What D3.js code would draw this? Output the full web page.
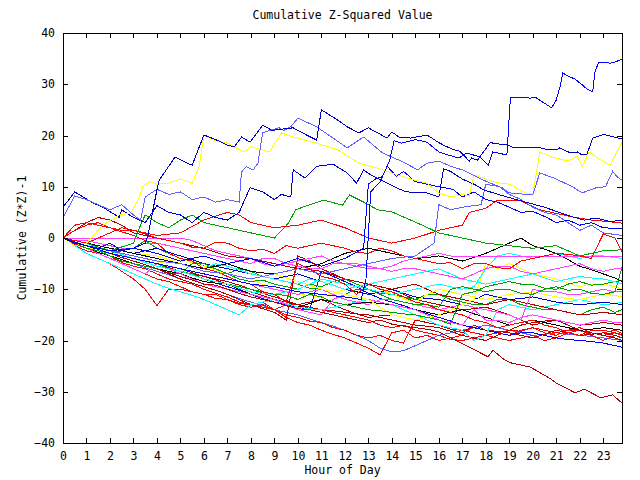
<!DOCTYPE html>
<html><head><meta charset="utf-8">
<script src="https://cdn.jsdelivr.net/npm/d3@7"></script>
<style>
body{margin:0;background:#fff;}
text{font-family:"DejaVu Sans Mono",monospace;font-size:11.5px;fill:#000;}
</style></head>
<body><svg id="c" width="640" height="480"></svg>
<script>
// ---- data ----
const xTicks = d3.range(0, 24);
const yTicks = [40,30,20,10,0,-10,-20,-30,-40];
// half-hour sample times (last sample at 23.8 h) for the lower bundle series
const halfHours = d3.range(0, 24, 0.5).concat([23.8]);

// upper series: [hour, value] breakpoints
const sTop = [[0,0],[1,-1.5],[2,-2.5],[3,-2],[4,-3],[5,-4.5],[6,-3.5],[7,-5],[8,-4],[9,-5.5],[10,-4],[11,-5.5],[12,-4],[12.8,-2],[13.0,10.5],[13.3,11.5],[13.6,12],[13.9,15],[14.1,19],[14.4,18.5],[15,19.2],[15.5,18.7],[16.0,16.8],[16.4,16.2],[16.85,15.6],[17.2,16.6],[17.75,15.8],[18.1,14.2],[18.3,16.8],[18.5,16.6],[18.9,16.2],[19.05,27.5],[19.9,27.3],[20.1,27.5],[20.3,26.9],[20.8,25.4],[21.0,26.9],[21.15,29.3],[21.28,32.2],[21.5,31.6],[21.8,31],[22.1,29.9],[22.3,29.1],[22.55,28.5],[22.64,32.2],[22.8,34.3],[23.06,34.3],[23.28,34.1],[23.5,34.3],[23.79,34.9]];
const sPeak = [[0,0],[0.5,-1],[1,-1.5],[1.5,-2],[2,-1],[2.5,-2.5],[3,-2],[3.5,-1],[3.6,0.2],[4.0,9.4],[4.1,11.3],[4.77,15.8],[5.3,14.6],[5.5,14.2],[6.0,20.1],[6.55,19.1],[7.0,18.1],[7.3,17.8],[7.6,19.7],[7.96,18.7],[8.5,22],[8.9,21],[9.8,21.5],[10.2,20.5],[10.8,19.1],[11.0,25],[11.7,23],[12.1,21.7],[12.6,20.5],[13,21.5],[13.4,20.5],[13.8,19.5],[14,20.7],[14.3,19.7],[14.8,19.5],[15.5,20.1],[16,18.6],[16.3,17.9],[16.6,17.3],[16.9,16.9],[17.3,15],[17.4,15.6],[17.65,15.2],[18.2,18.7],[18.3,18.5],[19.0,18.1],[19.15,17.6],[19.75,17.6],[20.3,17.6],[20.7,17.2],[21.0,17.2],[21.15,17.6],[21.6,16.6],[21.9,16.8],[22.1,16.2],[22.3,16.2],[22.55,19.5],[23.0,20.2],[23.3,19.9],[23.8,19.3]];
const sPeri1 = [[0,4],[0.5,8.2],[1,7.5],[1.5,6.5],[2,5.5],[2.5,6.5],[3,4.5],[3.3,3.5],[3.5,8],[4,9.5],[4.5,8.5],[5,9],[5.5,7.5],[6,8],[6.5,7],[7,7.5],[7.5,7],[7.6,12.9],[7.8,13.9],[8.1,13.3],[8.3,14.6],[8.5,20.5],[8.8,21],[9.2,21.5],[9.4,21],[9.7,21.7],[10,23.4],[10.8,21.7],[12.1,17.6],[12.8,19.7],[13.6,16.6],[14,15.8],[14.5,14.8],[15.1,13.3],[15.5,14.6],[16,15.0],[16.5,14],[17,13.3],[17.9,11.3],[18.3,10.5],[18.7,9.8],[19,8.8],[20,8.4],[20.3,12.7],[20.9,11.7],[21.7,10],[22.1,8.8],[22.7,9.8],[23.1,10],[23.4,13],[23.6,11.9],[23.8,11.3]];
const sYel1 = [[0,0],[0.5,-1.5],[1,-1],[1.7,2.5],[2.4,4.5],[2.9,4.9],[3.2,7.4],[3.4,10],[3.7,11],[4,10.5],[4.5,10.7],[5,11.5],[5.5,10.7],[5.8,14],[6,20],[6.5,19],[7,18.5],[7.7,16.8],[8,17.8],[8.8,16.8],[9.3,20.5],[9.8,19.7],[10.8,18.5],[11.7,17.2],[12.6,14.6],[13.4,13.6],[14,12.7],[14.8,11.5],[15.5,10.7],[16,8.8],[16.5,8],[17,8.5],[17.3,8.2],[17.5,12.3],[18,11.5],[18.5,10.8],[19,10.5],[19.7,8.8],[20,8.5],[20.3,16.8],[20.8,15.8],[21.5,15],[21.9,16],[22.1,13.9],[22.4,16.8],[22.8,15.5],[23.3,14.2],[23.6,17],[23.8,18.7]];
const sNavy1 = [[0,6],[0.5,9],[0.85,8],[1.3,6.8],[1.7,6],[2.4,4],[2.5,5.5],[3,4],[3.5,3],[4,6.3],[4.5,5],[5,4.5],[5.5,3],[6,5],[6.5,4],[7,3.5],[7.5,5],[7.96,9.8],[8.5,9],[9,7.5],[9.3,8.5],[9.7,8],[9.8,13.3],[10.3,11.7],[10.8,14],[11.5,14.4],[12.1,12.7],[12.5,10.7],[12.8,13.3],[13.1,12.3],[13.8,10.7],[14.2,9.8],[14.6,9],[15.5,8.8],[16,8],[16.2,13.5],[16.5,13],[17,11.5],[17.5,10.5],[17.9,9.4],[18.9,8],[19.7,7],[20.5,6],[21.7,4.1],[22.2,3.5],[22.7,3.9],[23.3,3.2],[23.8,3.5]];
const sBlue2 = [[0,0],[1,-1.5],[2,-3],[3,-4],[4,-5],[5,-6],[6,-7],[7,-8],[8,-9],[9,-9.5],[10,-10.5],[11,-11],[12,-11.5],[12.7,-12],[12.9,-8],[13.1,9],[13.5,11],[13.8,14],[14.2,12],[14.5,13],[15,11],[15.5,10.5],[16,10],[16.6,9.5],[17,8],[17.5,9],[18,7.5],[18.5,7],[19,6],[19.5,5],[20,5.2],[20.6,4],[21,3],[21.5,3.5],[22,2.5],[22.5,3],[23,2],[23.8,1.8]];
const sPeri2 = [[0,0],[1,-1.5],[2,-2.5],[3,-3.5],[4,-4.5],[5,-5],[6,-6.5],[7,-7],[8,-8],[9,-7],[10,-6],[11,-7],[12,-6],[13,-5],[14,-4],[15,-3.5],[15.8,-1],[16.0,6.5],[16.5,5.5],[17,6],[17.8,6.5],[18.0,10.5],[18.6,10],[19,8.5],[19.5,7.5],[20,6],[20.5,5],[21,4.5],[21.5,3],[22,1.5],[22.5,2.5],[23,1],[23.8,0.5]];
const sRed2 = [[0,0],[1,-1],[2,1],[2.5,2],[3,1.5],[4,0.5],[5,1],[6,3.5],[7,5],[7.5,4.5],[8,3],[9,2],[10,2.5],[11,3.5],[12,2],[13,0],[14,-1],[15,0],[16,1.5],[17,2.5],[17.3,5],[18,5.8],[18.5,7.4],[19.4,7.4],[20.3,5.5],[21,4.8],[21.7,4.1],[22.5,3.5],[23.2,3.2],[23.8,2.9]];
const sGrn1 = [[0,0],[1,-1],[2,-2.5],[3,-1],[3.3,2.5],[3.5,4.5],[4,3],[4.5,2],[5,3.5],[5.5,4.5],[6,3],[7,2],[8,1],[9,0],[9.6,2.9],[9.9,5.5],[10.5,6.5],[11.1,7.4],[11.9,6.4],[12.2,8.4],[12.8,7],[13.4,5.5],[14,5.1],[15.1,2.9],[16,1],[17,0],[18,-1],[19,-1.5],[20,-2],[21,-1.5],[22,-3.5],[23,-2.5],[23.8,-2.3]];
const sDrd1 = [[0,0],[0.5,-0.8],[1,-1.5],[1.5,-2.2],[2,-3],[2.5,-3.8],[3,-4.5],[3.5,-5.2],[4,-6],[4.5,-6.8],[5,-7.5],[5.5,-8.2],[6,-9],[6.5,-9.2],[7,-10],[7.5,-10.8],[8,-11.5],[8.5,-12],[9,-12.5],[9.5,-13.2],[10,-13.8],[10.5,-14],[11,-14.5],[11.5,-15],[12,-15.5],[12.5,-16],[13,-16.5],[13.5,-16],[14,-16.8],[14.5,-17.2],[15,-17.5],[15.5,-17.8],[16,-18.3],[16.5,-19.5],[17.3,-21.3],[18.1,-23.2],[18.3,-21.9],[18.8,-23.8],[19.1,-24.4],[19.9,-25.2],[20.7,-27.3],[21,-28.3],[21.8,-30.2],[22.2,-29.5],[22.9,-31.2],[23.4,-30.6],[23.8,-32.2]];

// lower bundle series: values at halfHours
const vRed1 = [0,1.5,2.5,3,2,1.2,0.5,-0.5,-1,-3,-4,-4.5,-6,-6.5,-7.5,-8.5,-9,-10.5,-11,-12.5,-5,-6,-7.5,-8,-9,-11,-9,-10,-10.5,-11.5,-12.5,-13,-14,-14.5,-15,-16,-16.5,-17.5,-17,-16.5,-16,-17,-17.5,-18.5,-19,-18,-18,-18.5,-19];
const vRed3 = [0,2.5,3,2.5,2,1.5,1.5,0.8,0,-0.5,-1,-1.8,-2,-0.8,-1,-2,-2.5,-2.2,-3,-1.5,-2,-1.5,-1,-1.5,-2,-2.8,-3,-2,-2.5,-3.5,-4,-4.5,-5,-4.8,-6,-5,-5,-5.8,-6,-4.5,-4,-3.5,-3,-3.2,-3.5,-4,0.8,0,-2.7];
const vRed4 = [0,-1.2,-2,-2.5,-3.5,-4.8,-5.5,-6,-7,-8,-8.5,-9,-10,-10.8,-11.5,-12.5,-13,-12.5,-14,-15.5,-16.5,-17,-18,-18.8,-19.5,-20.5,-21.5,-22.8,-18.5,-18,-19.5,-19,-20,-19.5,-19,-17,-18,-18.5,-19,-18,-17.5,-18.5,-19,-18,-18,-19,-20,-19,-19.5];
const vRed5 = [0,-1.5,-2.5,-3,-4,-5,-6,-7,-8,-8.5,-9.5,-10.5,-11,-11,-12,-13,-13.5,-13,-14,-15,-15.5,-16.2,-16.5,-17.5,-18,-19,-19.5,-19,-20,-20.5,-16,-16.5,-17,-17.8,-18,-18.5,-19,-19.5,-20,-19.5,-19,-20,-19.5,-18.5,-18,-18.8,-18.5,-18,-18.6];
const vRed6 = [0,-1.5,-3,-4,-5,-6.5,-8,-10,-13.2,-10,-10,-10.5,-11,-11.8,-12,-12.8,-13,-13.5,-14,-13,-13,-13.8,-14,-14.5,-15,-15.5,-16,-17,-17.5,-17,-18,-18.5,-19,-19.8,-20,-19.5,-19,-18.5,-18,-18.2,-17.5,-18,-18.5,-18,-17.5,-18.5,-19,-18.5,-18.8];
const vGrn2 = [0,-1,-2,-2.5,-3.5,-4.5,-5,-5.5,-6,-6.8,-7,-5,-5,-6,-7,-8,-8.5,-8.2,-9,-9.5,-10,-9,-9.5,-8.5,-8,-9,-10,-11,-12,-12.5,-13,-13,-13.5,-10,-9.5,-10,-10.5,-10,-10,-10.8,-11,-10,-9.5,-10.2,-10,-10.8,-11,-10.5,-5.7];
const vGrn3 = [0,-0.8,-1.5,-2.2,-3,-2.5,-2,-0.5,-2,-3,-4,-4.5,-5.5,-6,-7,-6,-6.5,-7.5,-8,-8.5,-9,-9.8,-10,-10.5,-11,-10,-10,-10.8,-11,-11.5,-12,-11,-11,-12,-12.5,-13,-13,-12,-12,-13,-13.5,-14,-14,-14.5,-15,-14,-13.5,-14.5,-14];
const vGrn4 = [0,-1,-2,-2.5,-3,-3.5,-4,-4.5,-5,-6,-6.5,-7,-8,-8.5,-9,-9.5,-10,-10.5,-11,-11.2,-12,-11,-11.5,-12.5,-13,-13.5,-14,-14.2,-14.5,-14.8,-15,-15.5,-16,-16.8,-11,-10.5,-9.5,-9,-8.5,-9,-9,-9.8,-10,-9,-8.5,-9.2,-9,-8.5,-8.3];
const vMag1 = [0,-0.5,-0.5,-1,-1.5,-2,-2,-1,-1,-1.5,-2,-2.5,-3,-3.5,-4,-4.5,-5,-4,-4,-5,-5.5,-6,-6,-5,-5,-5.5,-6,-6,-5.5,-4.5,-4,-3.5,-3,-3.5,-3.7,-3.7,-3.7,-3.7,-3.7,-3.7,-3.7,-3.7,-3.7,-3.7,-3.7,-3.7,-3.7,-3.7,-3.7];
const vMag2 = [0,0,0,0,0,0,0,0,0,0,0,-0.5,-1.5,-2.5,-3,-3.5,-4,-5,-5.5,-5,-4.5,-4,-3.5,-4.5,-5,-5,-5.5,-6,-6.5,-6,-6,-6.5,-7,-7.5,-8,-7,-6,-5.5,-5.5,-6.5,-7,-6.5,-6,-5.5,-5,-6,-6.5,-6,-6];
const vMag3 = [0,-1,-2,-3,-4,-5,-6,-7,-5,-6,-7,-8,-9,-9.5,-10,-10.5,-11,-11.5,-12,-13,-14,-14.5,-15,-12,-11,-11.5,-12,-12.5,-13,-13.5,-14,-15,-16,-16.5,-17,-14,-16,-16,-16.5,-15.5,-15,-15.5,-16,-16.5,-17,-16.5,-16,-16.5,-16.5];
const vMag4 = [0,-0.8,-1.5,-2.2,-3,-3.5,-4,-4.5,-5,-5.5,-6,-6.5,-7,-7.5,-8,-8.5,-9,-9.5,-10,-10.5,-11,-10.5,-10,-11,-12,-12.5,-13,-12,-12,-12.5,-13,-13.5,-14,-13.5,-13,-13.5,-14,-14.5,-15,-16,-10,-10.5,-10.5,-11,-11,-10.5,-10,-10.5,-10.5];
const vCyn1 = [0,-0.5,-1,-2,-2.5,-3.2,-4,-4.8,-5.5,-6,-6.5,-7.2,-8,-8.5,-9,-9.8,-10.5,-10.8,-11,-10.5,-10,-9,-8,-8.5,-9,-9.5,-10,-10.5,-11,-10.5,-10,-9.5,-9,-9.5,-10,-9.5,-6,-3.5,-3,-3.5,-4,-3.5,-3,-3.5,-4,-3.5,-3.5,-3.8,-4];
const vCyn2 = [0,-1.5,-3,-4,-5,-6,-7,-8,-9,-9.8,-10.5,-11.2,-12,-13,-14,-15,-13,-12.5,-12,-12.8,-13.5,-13.8,-14,-13.5,-13,-12.5,-12,-12.5,-13,-14,-15,-16,-17,-17.5,-18,-20,-19,-14,-13,-13.5,-14,-13.5,-13,-12.5,-12,-12.5,-13,-12.8,-12.5];
const vCyn3 = [0,-0.5,-1,-1.5,-2,-2.5,-3,-3.5,-4,-4.5,-5,-5.5,-6,-5,-5.5,-6.2,-7,-7.5,-8,-8.5,-9,-8,-8.5,-9.2,-10,-9.5,-9,-8.5,-8,-7.5,-7,-6.5,-6,-7,-8,-8.5,-9,-8.5,-8,-7.5,-7,-7.8,-8.5,-8,-7.5,-7.8,-8,-8.5,-9];
const vYel2 = [0,-0.5,-1,-1.5,-2,-2.5,-3,-3.2,-3.5,-4.2,-5,-5.5,-6,-6.5,-7,-7.5,-8,-7.5,-7,-7.8,-8.5,-9.2,-10,-10.5,-11,-11.5,-12,-13.5,-15,-15.5,-16,-15.5,-15,-14,-13,-12,-5,-6,-5,-6,-7,-7.5,-8,-8.8,-9.5,-9,-9,-9.5,-10];
const vYel3 = [0,-1,-2,-2,-2.5,-3.2,-4,-4.5,-5,-4.5,-4,-4.8,-5.5,-6.2,-7,-7.5,-8,-9,-10,-10.5,-11,-11.2,-11.5,-10.8,-10,-9.5,-9,-10,-11,-11.8,-12.5,-11,-10,-10.5,-11,-11.5,-12,-11.5,-11,-10.8,-10.5,-11,-11.5,-11.8,-12,-11.5,-11,-11.2,-11.5];
const vDrd2 = [0,-0.8,-1.5,-2,-2.5,-3.2,-4,-4.5,-5,-5.5,-6,-6.8,-7.5,-8,-8.5,-9.2,-10,-10.8,-11.5,-12.2,-13,-13.5,-14,-14.2,-14.5,-14.8,-15,-15.5,-16,-16.5,-17,-17.2,-17.5,-18.2,-19,-19.5,-20,-19,-18,-17,-16.5,-16.2,-16,-16.5,-17,-16.8,-16.5,-16.8,-17];
const vDrd3 = [0,-1,-2,-2.8,-3.5,-4.2,-5,-5.5,-6,-7,-8,-8.8,-9.5,-10.2,-11,-12,-13,-13.8,-14.5,-16,-3.5,-4.5,-6,-7,-8,-8.5,-9,-9.5,-10,-11,-12,-12.5,-13,-13.5,-14,-13.8,-13.5,-14.2,-15,-16,-17,-16.5,-16,-17,-18,-18.5,-19,-19.5,-20];
const vDrd4 = [0,1.5,3,4,3.5,2.5,1,0.5,0,-0.5,-1,-1.5,-2,-2.8,-3.5,-3.8,-4,-4.5,-5,-5.5,-6,-6.2,-6.5,-7.2,-8,-8.5,-9,-9.5,-10,-9.5,-9,-10,-11,-11.5,-12,-12.5,-13,-12.5,-12,-12.5,-13,-13.5,-14,-14.5,-15,-14.8,-14.5,-14.8,-15];
const vDrd5 = [0,-0.5,-1,-1.8,-2.5,-3.2,-4,-4.5,-5,-5.8,-6.5,-7,-7.5,-8.2,-9,-9.8,-10.5,-11.2,-12,-12.5,-13,-12.5,-12,-13,-14,-14.8,-15.5,-15.2,-15,-15.5,-16,-16.5,-17,-17.8,-18.5,-17,-18,-18.2,-18.5,-19,-19.5,-18.8,-18,-18.5,-19,-18.8,-18.5,-19,-19.5];
const vBlu3 = [0,-0.8,-1.5,-2.2,-3,-3.5,-4,-4.5,-5,-5.8,-6.5,-7.2,-8,-8.8,-9.5,-10.2,-11,-11.8,-12.5,-13,-13.5,-14,-6.5,-7.5,-8.5,-9.5,-10.8,-11.8,-12.5,-13.2,-14,-14.8,-15.5,-16.2,-17,-17.5,-18,-18.5,-19,-18.5,-18.5,-19,-19.5,-19.8,-20,-20.2,-20.5,-21,-21.3];
const vNavy2 = [0,-0.5,-1,-1.5,-2,-2.5,-3,-2.5,-2,-2.8,-3.5,-4.2,-5,-5.5,-6,-6.5,-7,-7.5,-8,-7.5,-7,-7.8,-8.5,-9.2,-10,-10.5,-11,-10.5,-10,-10.8,-11.5,-11.8,-12,-12.5,-13,-12,-11,-11.5,-12,-11.8,-11.5,-12,-12.5,-12.8,-13,-12.8,-12.5,-12.8,-13];
const vPeri3 = [0,-1,-2,-3,-4,-4.5,-5,-5.8,-6.5,-7.2,-8,-8.8,-9.5,-10.2,-11,-11.8,-12.5,-13.2,-14,-14.5,-15,-15.8,-16.5,-17.2,-18,-19,-20,-21.5,-22.2,-22,-21,-20,-19,-18.5,-18,-17.5,-17,-17.5,-18,-18.5,-19,-18.8,-18.5,-18.8,-19,-19.2,-19.5,-19.8,-20];
const vBlk1 = [0,-0.5,-1,-1.5,-2,-2.5,-3,-3.5,-4,-4.5,-5,-5.5,-6,-5.5,-5,-5.8,-6.5,-6.8,-7,-6.5,-6,-5.5,-5,-4,-3,-2.5,-2,-2.5,-3,-3.5,-4,-3.8,-3.5,-4,-4.5,-3.8,-3,-2,-1,0,-1.5,-2.2,-3,-4.2,-5.5,-6.2,-7,-7.8,-8.5];
const vBlk2 = [0,-1,-2,-2.8,-3.5,-4.2,-5,-5.5,-6,-6.5,-7,-7.8,-8.5,-8.8,-9,-10,-11,-11.5,-12,-12.8,-13.5,-12.8,-12,-12.5,-13,-12.8,-12.5,-12.8,-13,-13.5,-14,-14.5,-15,-14.5,-14,-14.8,-15.5,-16.2,-17,-16.5,-16,-16.5,-17,-17.5,-18,-17.8,-17.5,-17.8,-18];

const lowerValues = [vPeri3,vRed4,vRed5,vRed6,vBlu3,vDrd2,vDrd5,vDrd3,vBlk2,vCyn2,vMag3,vGrn3,vDrd4,vNavy2,vYel3,vMag4,vYel2,vGrn4,vGrn2,vCyn3,vBlk1,vCyn1,vMag2,vMag1,vRed1,vRed3];
const lowerColors = ["#6060ff","#ff0000","#ff0000","#ff0000","#0000ff","#b00000","#b00000","#b00000","#000000","#00ffff","#ff40ff","#00a000","#b00000","#0000c0","#ffff00","#ff40ff","#ffff00","#00a000","#00a000","#00ffff","#000000","#00ffff","#ff40ff","#ff40ff","#ff0000","#ff0000"];
const upperSeries = [sDrd1,sGrn1,sRed2,sPeri2,sBlue2,sNavy1,sYel1,sPeri1,sPeak,sTop];
const upperColors = ["#b00000","#00a000","#ff0000","#6060ff","#0000ff","#0000c0","#ffff00","#6060ff","#0000c0","#0000ff"];

// ---- drawing ----
const svg = d3.select("#c");
const L = 63, R = 622, T = 33, B = 443;
const x = d3.scaleLinear().domain([0, 23.8]).range([L, R]);
const y = d3.scaleLinear().domain([-40, 40]).range([B, T]);

svg.append("rect").attr("width",640).attr("height",480).attr("fill","#fff");

const line = d3.line().x(d => x(d[0])).y(d => y(d[1]));
const g = svg.append("g");
const allSeries = lowerValues.map(v => v.map((val, i) => [halfHours[i], val])).concat(upperSeries);
const allColors = lowerColors.concat(upperColors);
allSeries.forEach((s, i) => {
  g.append("path").attr("d", line(s)).attr("fill","none")
   .attr("stroke", allColors[i]).attr("stroke-width",1)
   .attr("shape-rendering","crispEdges");
});

// axes (inward ticks on all sides)
const tk = 5;
svg.append("g").attr("transform",`translate(0,${B})`)
  .call(d3.axisBottom(x).tickValues(xTicks).tickSizeInner(-tk).tickSizeOuter(0).tickPadding(9))
  .call(a => a.select(".domain").remove());
svg.append("g").attr("transform",`translate(0,${T})`)
  .call(d3.axisTop(x).tickValues(xTicks).tickSizeInner(-tk).tickSizeOuter(0).tickFormat(""))
  .call(a => a.select(".domain").remove());
svg.append("g").attr("transform",`translate(${L},0)`)
  .call(d3.axisLeft(y).tickValues(yTicks).tickSizeInner(-tk).tickSizeOuter(0).tickPadding(8))
  .call(a => a.select(".domain").remove());
svg.append("g").attr("transform",`translate(${R},0)`)
  .call(d3.axisRight(y).tickValues(yTicks).tickSizeInner(-tk).tickSizeOuter(0).tickFormat(""))
  .call(a => a.select(".domain").remove());
svg.selectAll(".tick line").attr("stroke","#000").attr("shape-rendering","crispEdges");
svg.selectAll(".tick text").style("font-family","'DejaVu Sans Mono',monospace").style("font-size","11.5px");

svg.append("rect").attr("x",L).attr("y",T).attr("width",R-L).attr("height",B-T)
  .attr("fill","none").attr("stroke","#000").attr("shape-rendering","crispEdges");

svg.append("text").attr("x",(L+R)/2).attr("y",19).attr("text-anchor","middle").text("Cumulative Z-Squared Value");
svg.append("text").attr("x",(L+R)/2).attr("y",474).attr("text-anchor","middle").text("Hour of Day");
svg.append("text").attr("transform",`translate(26,${(T+B)/2}) rotate(-90)`).attr("text-anchor","middle").text("Cumulative (Z*Z)-1");
</script></body></html>
